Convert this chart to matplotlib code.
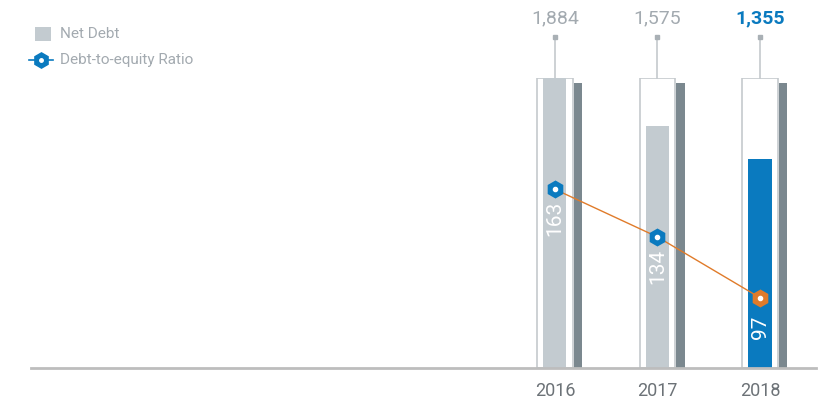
import matplotlib
matplotlib.use("Agg")
import matplotlib.pyplot as plt
from matplotlib.patches import Rectangle
from matplotlib.lines import Line2D
import numpy as np

# DATA
years = ["2016", "2017", "2018"]
net_debt = [1884, 1575, 1355]
debt_labels = ["1,884", "1,575", "1,355"]
de_ratio = [163, 134, 97]

# COLOURS
GREY_FILL = "#c3cbd0"
DARK_BAR = "#7b888f"
OUTLINE = "#c5cacd"
BLUE = "#0a7abf"
ORANGE = "#e07b2a"
TEXT_GREY = "#a3aab0"
YEAR_GREY = "#6c7277"

plt.rcParams["font.family"] = ["Roboto", "DejaVu Sans"]

W, H = 829, 403
fig = plt.figure(figsize=(W / 100, H / 100), dpi=100)
ax = fig.add_axes([31 / W, 35 / H, 785 / W, 290 / H])

x = np.arange(len(years))
top = max(net_debt)

# outline boxes and shadow bars
ax.bar(x, [top] * len(x), width=0.35, facecolor="white", edgecolor=OUTLINE,
       linewidth=1.2, zorder=1)
ax.bar(x + 0.225, [top * 0.983] * len(x), width=0.08, color=DARK_BAR,
       linewidth=0, zorder=1)
fills = [GREY_FILL, GREY_FILL, BLUE]
ax.bar(x, net_debt, width=0.225, color=fills, linewidth=0, zorder=2)

# stems and value labels above
for i, lab in enumerate(debt_labels):
    ax.plot([x[i], x[i]], [top, top * 1.141], color=OUTLINE, lw=1.2,
            clip_on=False, zorder=1)
    ax.plot(x[i], top * 1.141, marker="s", ms=3.5, color="#a9b0b5",
            clip_on=False, zorder=2)
    last = i == len(years) - 1
    ax.text(x[i], top * 1.205, lab, ha="center", va="center", fontsize=14,
            color=BLUE if last else TEXT_GREY,
            fontweight="bold" if last else "normal", clip_on=False)

ax.set_xlim(-5.11, 2.546)
ax.set_ylim(0, top)
for s in ["top", "right", "left"]:
    ax.spines[s].set_visible(False)
ax.spines["bottom"].set_color("#bdbdbd")
ax.spines["bottom"].set_linewidth(2)
ax.set_yticks([])
ax.set_xticks(x)
ax.set_xticklabels(years, fontsize=13, color=YEAR_GREY)
ax.tick_params(axis="x", length=0, pad=10)

# ratio line on a second scale
ax2 = ax.twinx()
ax2.set_ylim(54.2, 230.8)
ax2.set_axis_off()
ax2.plot(x, de_ratio, color=ORANGE, lw=1, zorder=3)
mcols = [BLUE, BLUE, ORANGE]
for i, v in enumerate(de_ratio):
    ax2.plot(x[i], v, marker="h", ms=13, color=mcols[i], mew=0, zorder=4)
    ax2.plot(x[i], v, marker="o", ms=3, color="white", zorder=5)
    ax2.annotate(str(v), (x[i], v), xytext=(0, -21), textcoords="offset points",
                 ha="center", va="center", rotation=90, fontsize=15,
                 color="white", zorder=5)

# legend, drawn by hand in pixel positions
fig.add_artist(Rectangle((35 / W, 1 - 41 / H), 16 / W, 14 / H,
                         transform=fig.transFigure, color=GREY_FILL, lw=0))
fig.add_artist(Line2D([29 / W, 53 / W], [1 - 60 / H, 1 - 60 / H],
                      transform=fig.transFigure, color=BLUE, lw=1.2))
fig.add_artist(Line2D([41 / W], [1 - 60 / H], transform=fig.transFigure,
                      marker="h", ms=11, color=BLUE, ls="none"))
fig.add_artist(Line2D([41 / W], [1 - 60 / H], transform=fig.transFigure,
                      marker="o", ms=2.5, color="white", ls="none"))
fig.text(60 / W, 1 - 34 / H, "Net Debt", fontsize=11, color=TEXT_GREY,
         va="center", ha="left")
fig.text(60 / W, 1 - 60 / H, "Debt-to-equity Ratio", fontsize=11,
         color=TEXT_GREY, va="center", ha="left")

fig.savefig("out.png", dpi=100)
